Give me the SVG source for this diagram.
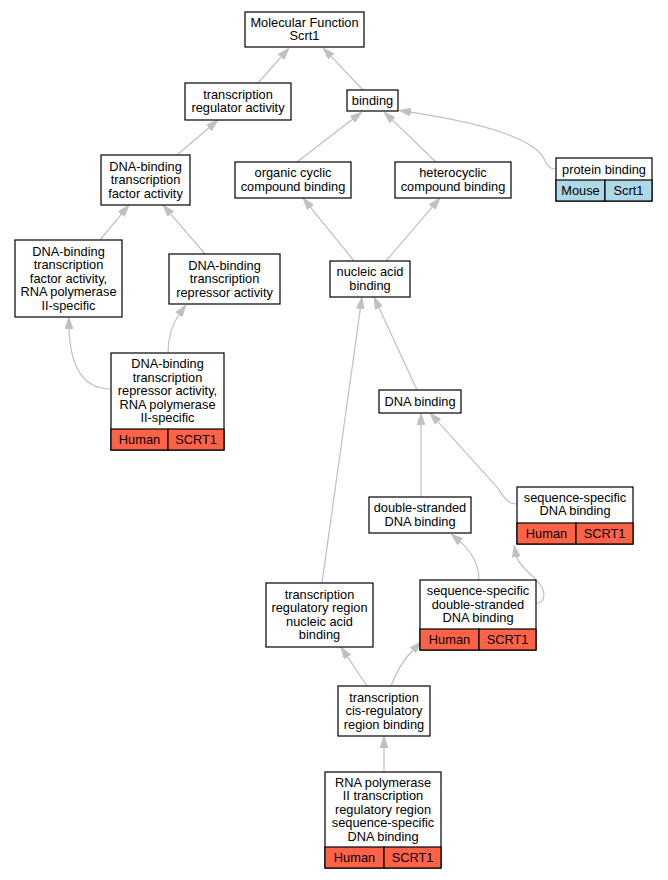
<svg xmlns="http://www.w3.org/2000/svg" width="668" height="880" viewBox="0 0 668 880">
<defs>
<style>
.n rect{fill:#fff;stroke:#000;stroke-width:1.2}
.n rect.h{fill:#ff6347}
.n rect.m{fill:#add8e6}
text{font-family:"Liberation Sans",Arial,sans-serif;font-size:12.8px;text-anchor:middle;fill:#000}
#edges path{fill:none;stroke:#c0c0c0;stroke-width:1.2}
</style>
<marker id="a" viewBox="0 0 12 8" markerWidth="12" markerHeight="8" refX="2" refY="4" orient="auto" markerUnits="userSpaceOnUse">
<path d="M0,0 L12,4 L0,8 z" fill="#c0c0c0" stroke="#c0c0c0" stroke-width="0.8"/>
</marker>
</defs>
<rect width="668" height="880" fill="#fff"/>
<g id="edges">
<path d="M258,83 L282.4,55.5" marker-end="url(#a)"/>
<path d="M363,90 L329.9,55.2" marker-end="url(#a)"/>
<path d="M177,155 L210.4,126.5" marker-end="url(#a)"/>
<path d="M297,162 L354.1,118.1" marker-end="url(#a)"/>
<path d="M436,162 L391.2,118.9" marker-end="url(#a)"/>
<path d="M556,169 C545,169 547,160 540,153 C522,133 462,120 408.8,111.9" marker-end="url(#a)"/>
<path d="M100,240 L122.6,212.7" marker-end="url(#a)"/>
<path d="M205,254 L169.5,212.6" marker-end="url(#a)"/>
<path d="M354,261 L309.3,205.8" marker-end="url(#a)"/>
<path d="M386,261 L433.5,205.6" marker-end="url(#a)"/>
<path d="M111,389 C85,389 70,370 69,327" marker-end="url(#a)"/>
<path d="M168,353 C168,336 172,324 180,313" marker-end="url(#a)"/>
<path d="M417,390 L378.2,306.1" marker-end="url(#a)"/>
<path d="M322,583 L360.6,306.9" marker-end="url(#a)"/>
<path d="M421,497 L421,423" marker-end="url(#a)"/>
<path d="M517,504 C507,504 504,497 497,487 L436.75,420.4" marker-end="url(#a)"/>
<path d="M479,580 C479,564 470,550 458.7,540.4" marker-end="url(#a)"/>
<path d="M536,603 C546,603 545,592 541,586 C535,576 518,566 516,555" marker-end="url(#a)"/>
<path d="M367,686 L346.5,655.3" marker-end="url(#a)"/>
<path d="M391,686 C396,672 403,660 414,649" marker-end="url(#a)"/>
<path d="M384,772 L384,746" marker-end="url(#a)"/>
</g>
<g id="n1" class="n"><rect x="245" y="12" width="119" height="35"/><text x="304.5" y="26.75">Molecular Function</text><text x="304.5" y="40.25">Scrt1</text></g>
<g id="n2" class="n"><rect x="185" y="83" width="106" height="37"/><text x="238" y="98.75">transcription</text><text x="238" y="112.25">regulator activity</text></g>
<g id="n3" class="n"><rect x="347" y="90" width="51" height="21"/><text x="372.5" y="104.5">binding</text></g>
<g id="n4" class="n"><rect x="101" y="155" width="89" height="50"/><text x="145.5" y="170.5">DNA-binding</text><text x="145.5" y="184">transcription</text><text x="145.5" y="197.5">factor activity</text></g>
<g id="n5" class="n"><rect x="235" y="162" width="116" height="36"/><text x="293" y="177.25">organic cyclic</text><text x="293" y="190.75">compound binding</text></g>
<g id="n6" class="n"><rect x="395" y="162" width="116" height="36"/><text x="453" y="177.25">heterocyclic</text><text x="453" y="190.75">compound binding</text></g>
<g id="n7" class="n"><rect x="556" y="158" width="96" height="43"/><text x="604" y="173.5">protein binding</text><rect class="m" x="556" y="180" width="49" height="21"/><rect class="m" x="605" y="180" width="47" height="21"/><text x="580.5" y="195">Mouse</text><text x="628.5" y="195">Scrt1</text></g>
<g id="n8" class="n"><rect x="15" y="240" width="107" height="77"/><text x="68.5" y="255.5">DNA-binding</text><text x="68.5" y="269">transcription</text><text x="68.5" y="282.5">factor activity,</text><text x="68.5" y="296">RNA polymerase</text><text x="68.5" y="309.5">II-specific</text></g>
<g id="n9" class="n"><rect x="169" y="254" width="111" height="50"/><text x="224.5" y="269.5">DNA-binding</text><text x="224.5" y="283">transcription</text><text x="224.5" y="296.5">repressor activity</text></g>
<g id="n10" class="n"><rect x="330" y="261" width="80" height="36"/><text x="370" y="276.25">nucleic acid</text><text x="370" y="289.75">binding</text></g>
<g id="n11" class="n"><rect x="111" y="353" width="113" height="97"/><text x="167.5" y="368">DNA-binding</text><text x="167.5" y="381.5">transcription</text><text x="167.5" y="395">repressor activity,</text><text x="167.5" y="408.5">RNA polymerase</text><text x="167.5" y="422">II-specific</text><rect class="h" x="111" y="429" width="57" height="21"/><rect class="h" x="168" y="429" width="56" height="21"/><text x="139.5" y="444">Human</text><text x="196" y="444">SCRT1</text></g>
<g id="n12" class="n"><rect x="379" y="390" width="82" height="23"/><text x="420" y="405.5">DNA binding</text></g>
<g id="n13" class="n"><rect x="517" y="487" width="116" height="57"/><text x="575" y="501.75">sequence-specific</text><text x="575" y="515.25">DNA binding</text><rect class="h" x="517" y="523" width="59" height="21"/><rect class="h" x="576" y="523" width="57" height="21"/><text x="546.5" y="538">Human</text><text x="604.5" y="538">SCRT1</text></g>
<g id="n14" class="n"><rect x="369" y="497" width="102" height="36"/><text x="420" y="512.25">double-stranded</text><text x="420" y="525.75">DNA binding</text></g>
<g id="n15" class="n"><rect x="266" y="583" width="107" height="64"/><text x="319.5" y="598.75">transcription</text><text x="319.5" y="612.25">regulatory region</text><text x="319.5" y="625.75">nucleic acid</text><text x="319.5" y="639.25">binding</text></g>
<g id="n16" class="n"><rect x="420" y="580" width="116" height="70"/><text x="478" y="595">sequence-specific</text><text x="478" y="608.5">double-stranded</text><text x="478" y="622">DNA binding</text><rect class="h" x="420" y="629" width="59" height="21"/><rect class="h" x="479" y="629" width="57" height="21"/><text x="449.5" y="644">Human</text><text x="507.5" y="644">SCRT1</text></g>
<g id="n17" class="n"><rect x="338" y="686" width="92" height="50"/><text x="384" y="701.5">transcription</text><text x="384" y="715">cis-regulatory</text><text x="384" y="728.5">region binding</text></g>
<g id="n18" class="n"><rect x="325" y="772" width="116" height="96"/><text x="383" y="786.5">RNA polymerase</text><text x="383" y="800">II transcription</text><text x="383" y="813.5">regulatory region</text><text x="383" y="827">sequence-specific</text><text x="383" y="840.5">DNA binding</text><rect class="h" x="325" y="847" width="59" height="21"/><rect class="h" x="384" y="847" width="57" height="21"/><text x="354.5" y="862">Human</text><text x="412.5" y="862">SCRT1</text></g>
</svg>
